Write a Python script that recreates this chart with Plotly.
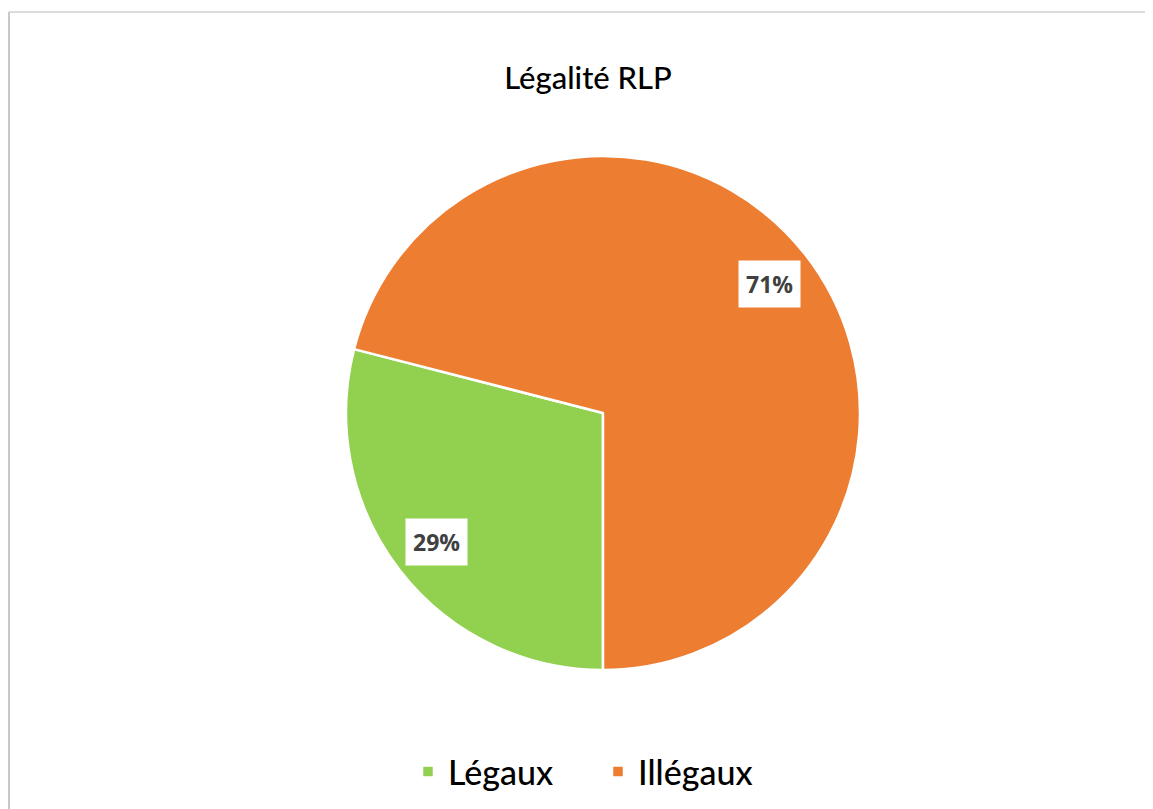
import math
import plotly.graph_objects as go

labels = ["Légaux", "Illégaux"]
values = [29, 71]
colors = ["#92D050", "#ED7D31"]

W, H = 1153, 809
# page body adds an 8px offset, so layout positions are shifted by -8
dom_x = [338 / W, 852 / W]
dom_y = [1 - 662 / H, 1 - 148 / H]

fig = go.Figure(go.Pie(
    labels=labels,
    values=values,
    marker=dict(colors=colors, line=dict(color="white", width=2.5)),
    sort=False,
    direction="clockwise",
    rotation=180,
    textinfo="none",
    hoverinfo="label+percent",
    domain=dict(x=dom_x, y=dom_y),
))

# data labels with white boxes, placed along each slice's mid angle
cx = (dom_x[0] + dom_x[1]) / 2
cy = (dom_y[0] + dom_y[1]) / 2
r_px = (dom_x[1] - dom_x[0]) * W / 2 * 0.82
total = sum(values)
start = 180.0
for v in values:
    sweep = v / total * 360
    mid = math.radians(start + sweep / 2)
    fig.add_annotation(
        x=cx + r_px * math.sin(mid) / W,
        y=cy + r_px * math.cos(mid) / H,
        xref="paper", yref="paper",
        xanchor="center", yanchor="middle",
        text="<b>%d%%</b>" % round(v / total * 100),
        showarrow=False,
        font=dict(family="Open Sans", size=23, color="#404040"),
        bgcolor="white",
        borderpad=7,
    )
    start += sweep

# chart frame (top and left edges)
fig.add_shape(type="line", xref="paper", yref="paper",
              x0=1 / W, x1=1, y0=1 - 4 / H, y1=1 - 4 / H,
              line=dict(color="#d0d0d0", width=1.5))
fig.add_shape(type="line", xref="paper", yref="paper",
              x0=1 / W, x1=1 / W, y0=0, y1=1 - 4 / H,
              line=dict(color="#c8c8c8", width=2))

fig.update_layout(
    width=W,
    height=H,
    margin=dict(l=0, r=0, t=0, b=0),
    paper_bgcolor="white",
    plot_bgcolor="white",
    font=dict(family="Lato", color="black"),
    title=dict(text="Légalité RLP", x=580 / W, xanchor="center",
               y=1 - 70 / H, yanchor="middle",
               font=dict(family="Lato", size=31, color="black", weight=500)),
    showlegend=True,
    legend=dict(orientation="h", x=590 / W, xanchor="center",
                y=1 - 764 / H, yanchor="middle",
                font=dict(family="Lato", size=34, color="black", weight=500),
                itemwidth=30, entrywidth=145, traceorder="normal"),
)

fig.write_html("out.html")
